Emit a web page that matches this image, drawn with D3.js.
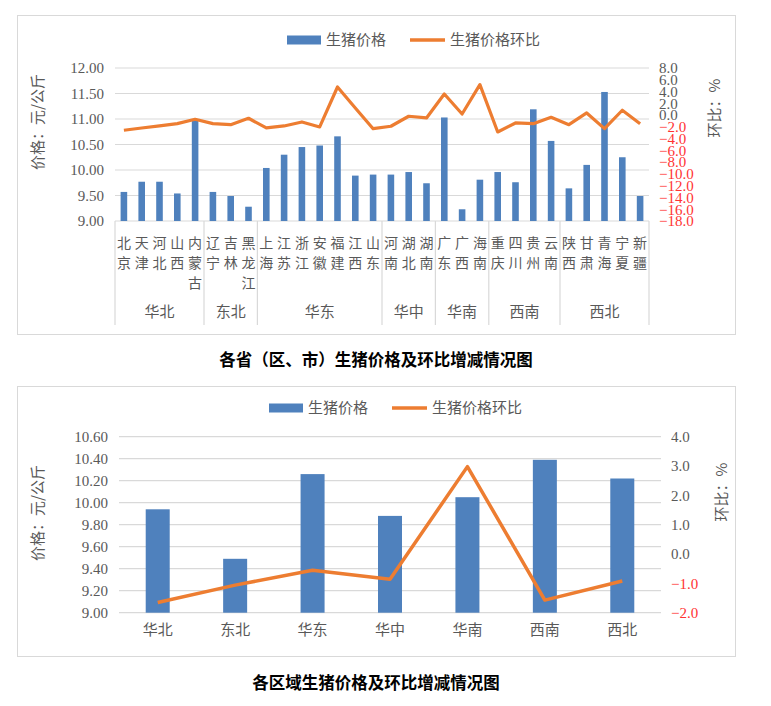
<!DOCTYPE html>
<html>
<head>
<meta charset="utf-8">
<script src="https://cdn.jsdelivr.net/npm/d3@7"></script>
<style>
  body { margin: 0; background: #fff; }
  svg text { font-family: "Noto Sans CJK SC", sans-serif; }
  .num { font-family: "Liberation Serif", "DejaVu Serif", serif; }
</style>
</head>
<body>
<script>
// ---- data ----
var provinces = ["北京","天津","河北","山西","内蒙古","辽宁","吉林","黑龙江",
  "上海","江苏","浙江","安徽","福建","江西","山东","河南","湖北","湖南",
  "广东","广西","海南","重庆","四川","贵州","云南","陕西","甘肃","青海","宁夏","新疆"];
var provincePrice = [9.57,9.77,9.77,9.54,10.98,9.57,9.49,9.28,
  10.04,10.30,10.45,10.48,10.66,9.89,9.91,9.91,9.96,9.74,
  11.03,9.23,9.81,9.96,9.76,11.19,10.57,9.64,10.10,11.53,10.25,9.49];
var provinceChange = [-2.58,-2.19,-1.85,-1.46,-0.71,-1.46,-1.63,-0.54,
  -2.19,-1.85,-1.17,-2.02,4.77,1.21,-2.31,-1.90,-0.20,-0.49,
  3.59,0.19,5.17,-2.87,-1.34,-1.46,-0.37,-1.63,0.36,-2.31,0.82,-1.46];
var regions = ["华北","东北","华东","华中","华南","西南","西北"];
var regionSizes = [5,3,7,3,3,4,5];
var regionPrice = [9.94,9.49,10.26,9.88,10.05,10.39,10.22];
var regionChange = [-1.65,-1.06,-0.55,-0.86,2.98,-1.57,-0.92];

var leftTicks1 = [9,9.5,10,10.5,11,11.5,12];
var rightTicks1 = d3.range(-18, 9, 2);
var leftTicks2 = [9,9.2,9.4,9.6,9.8,10,10.2,10.4,10.6];
var rightTicks2 = [-2,-1,0,1,2,3,4];

var barColor = "#4f81bd", lineColor = "#ed7d31", gridColor = "#d9d9d9",
    textColor = "#595959", negColor = "#ff3333";

var svg = d3.select("body").append("svg").attr("width", 771).attr("height", 706);

function legend(g, x, y) {
  g.append("rect").attr("x", x).attr("y", y - 4.5).attr("width", 34).attr("height", 9).attr("fill", barColor);
  g.append("text").attr("x", x + 39).attr("y", y).attr("dy", "0.36em")
    .attr("font-size", 15).attr("fill", textColor).text("生猪价格");
  g.append("line").attr("x1", x + 123).attr("x2", x + 158).attr("y1", y).attr("y2", y)
    .attr("stroke", lineColor).attr("stroke-width", 3.5);
  g.append("text").attr("x", x + 163).attr("y", y).attr("dy", "0.36em")
    .attr("font-size", 15).attr("fill", textColor).text("生猪价格环比");
}

function axes(g, yL, yR, lt, rt, lfmt, rfmt, x0, x1) {
  g.append("g").selectAll("line").data(lt).enter().append("line")
    .attr("x1", x0).attr("x2", x1).attr("y1", d => yL(d)).attr("y2", d => yL(d))
    .attr("stroke", gridColor).attr("stroke-width", 1.2);
  var la = g.append("g").attr("transform", "translate(" + x0 + ",0)")
    .call(d3.axisLeft(yL).tickValues(lt).tickFormat(d3.format(lfmt)).tickSize(0).tickPadding(11));
  var ra = g.append("g").attr("transform", "translate(" + x1 + ",0)")
    .call(d3.axisRight(yR).tickValues(rt).tickFormat(d3.format(rfmt)).tickSize(0).tickPadding(10));
  [la, ra].forEach(function (a) {
    a.select(".domain").remove();
    a.selectAll("text").attr("class", "num").attr("font-size", 15).attr("fill", textColor);
  });
  ra.selectAll("text").attr("fill", d => d < 0 ? negColor : textColor);
}

function yTitle(g, x, y, t) {
  g.append("text").attr("transform", "translate(" + x + "," + y + ") rotate(-90)")
    .attr("text-anchor", "middle").attr("dy", "0.36em")
    .attr("font-size", 15).attr("fill", textColor).text(t);
}

// ---- chart 1: provinces ----
var g1 = svg.append("g");
g1.append("rect").attr("x", 17.5).attr("y", 15.5).attr("width", 718).attr("height", 319)
  .attr("fill", "#fff").attr("stroke", gridColor);

var x1 = d3.scaleBand().domain(provinces).range([115, 649]);
var yL1 = d3.scaleLinear().domain([9, 12]).range([221, 68]);
var yR1 = d3.scaleLinear().domain([-18, 8]).range([221, 68]);

axes(g1, yL1, yR1, leftTicks1, rightTicks1, ".2f", ".1f", 115, 649);

var bw1 = x1.bandwidth() * 0.37;
g1.append("g").selectAll("rect").data(provincePrice).enter().append("rect")
  .attr("x", (d, i) => x1(provinces[i]) + (x1.bandwidth() - bw1) / 2)
  .attr("y", d => yL1(d)).attr("width", bw1).attr("height", d => yL1(9) - yL1(d))
  .attr("fill", barColor);

g1.append("path").datum(provinceChange)
  .attr("d", d3.line().x((d, i) => x1(provinces[i]) + x1.bandwidth() / 2).y(d => yR1(d)))
  .attr("fill", "none").attr("stroke", lineColor).attr("stroke-width", 3.2)
  .attr("stroke-linejoin", "round");

// multi level category axis
var bounds = [0];
regionSizes.forEach(function (n, i) { bounds.push(bounds[i] + n); });
g1.append("g").selectAll("line").data(bounds).enter().append("line")
  .attr("x1", d => d < provinces.length ? x1(provinces[d]) : 649)
  .attr("x2", d => d < provinces.length ? x1(provinces[d]) : 649)
  .attr("y1", 221).attr("y2", 325).attr("stroke", gridColor).attr("stroke-width", 1.2);

var pl = g1.append("g").selectAll("text").data(provinces).enter().append("text")
  .attr("text-anchor", "middle").attr("font-size", 14).attr("fill", textColor);
pl.each(function (name) {
  var t = d3.select(this), cx = x1(name) + x1.bandwidth() / 2;
  name.split("").forEach(function (c, k) {
    t.append("tspan").attr("x", cx).attr("y", 243 + k * 20).attr("dy", "0.36em").text(c);
  });
});
g1.append("g").selectAll("text").data(regions).enter().append("text")
  .attr("x", (d, i) => (x1(provinces[bounds[i]]) + (bounds[i + 1] < provinces.length ? x1(provinces[bounds[i + 1]]) : 649)) / 2)
  .attr("y", 312).attr("dy", "0.36em").attr("text-anchor", "middle")
  .attr("font-size", 15).attr("fill", textColor).text(d => d);

legend(g1, 287, 40);
yTitle(g1, 38, 122, "价格：元/公斤");
yTitle(g1, 715, 108, "环比：%");
g1.append("text").attr("x", 376).attr("y", 360).attr("dy", "0.36em").attr("text-anchor", "middle")
  .attr("font-size", 16.5).attr("font-weight", "bold").attr("fill", "#000")
  .text("各省（区、市）生猪价格及环比增减情况图");

// ---- chart 2: regions ----
var g2 = svg.append("g");
g2.append("rect").attr("x", 17.5).attr("y", 386.5).attr("width", 718).attr("height", 270)
  .attr("fill", "#fff").attr("stroke", gridColor);

var x2 = d3.scaleBand().domain(regions).range([119, 661]);
var yL2 = d3.scaleLinear().domain([9, 10.6]).range([612.7, 436.7]);
var yR2 = d3.scaleLinear().domain([-2, 4]).range([612.7, 436.7]);

axes(g2, yL2, yR2, leftTicks2, rightTicks2, ".2f", ".1f", 119, 661);

var bw2 = x2.bandwidth() * 0.31;
g2.append("g").selectAll("rect").data(regionPrice).enter().append("rect")
  .attr("x", (d, i) => x2(regions[i]) + (x2.bandwidth() - bw2) / 2)
  .attr("y", d => yL2(d)).attr("width", bw2).attr("height", d => yL2(9) - yL2(d))
  .attr("fill", barColor);

g2.append("path").datum(regionChange)
  .attr("d", d3.line().x((d, i) => x2(regions[i]) + x2.bandwidth() / 2).y(d => yR2(d)))
  .attr("fill", "none").attr("stroke", lineColor).attr("stroke-width", 3.5)
  .attr("stroke-linejoin", "round");

var xa2 = g2.append("g").attr("transform", "translate(0,612.7)")
  .call(d3.axisBottom(x2).tickSize(0).tickPadding(12));
xa2.select(".domain").remove();
xa2.selectAll("text").attr("font-size", 15).attr("fill", textColor);

legend(g2, 269, 408);
yTitle(g2, 38, 513, "价格：元/公斤");
yTitle(g2, 722, 492, "环比：%");
g2.append("text").attr("x", 376).attr("y", 683).attr("dy", "0.36em").attr("text-anchor", "middle")
  .attr("font-size", 16.5).attr("font-weight", "bold").attr("fill", "#000")
  .text("各区域生猪价格及环比增减情况图");
</script>
</body>
</html>
